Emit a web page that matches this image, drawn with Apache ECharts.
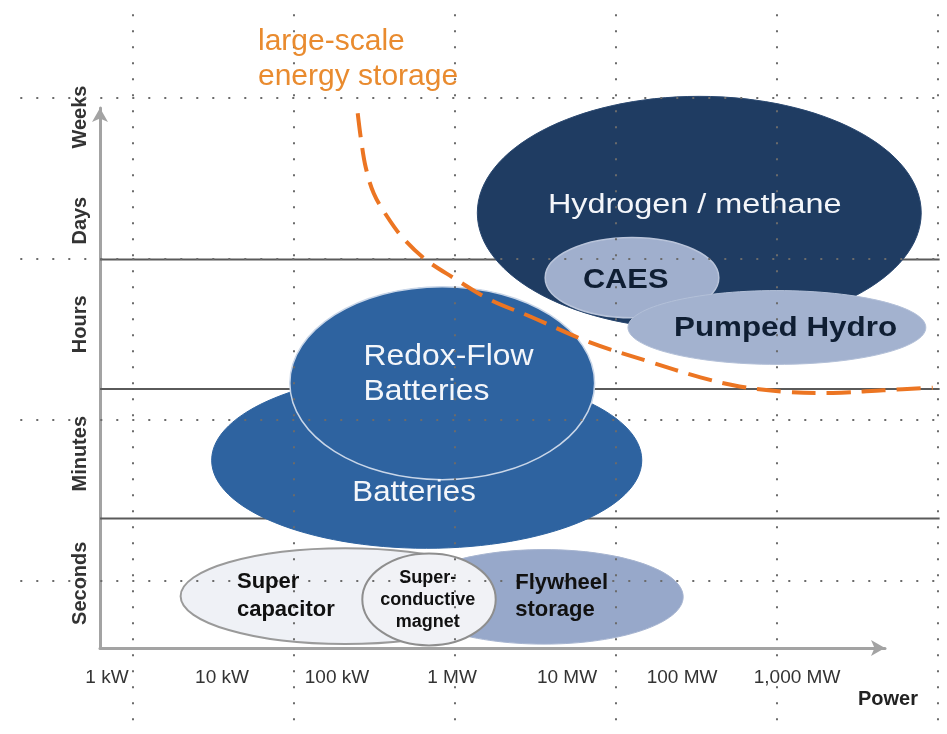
<!DOCTYPE html>
<html>
<head>
<meta charset="utf-8">
<title>Energy storage technologies</title>
<script src="https://cdn.jsdelivr.net/npm/echarts@6/dist/echarts.min.js"></script>
<style>
    html, body { margin: 0; padding: 0; background: #fff; }
    #chart { width: 947px; height: 734px; }
</style>
</head>
<body>
<div id="chart"></div>
<script>
// power axis: log10 of kW (0 = 1 kW ... 6 = 1,000 MW)
var powerTicks = [0, 1, 2, 3, 4, 5, 6];
var powerLabels = ['1 kW', '10 kW', '100 kW', '1 MW', '10 MW', '100 MW', '1,000 MW'];

// duration axis: one unit per band
var durationPos = [0.5, 1.5, 2.5, 3.3, 4.1];
var durationLabels = ['Seconds', 'Minutes', 'Hours', 'Days', 'Weeks'];
var bandEdges = [1, 2, 3];

// technologies: power range (log kW) and discharge time range (bands)
var techNames = ['Hydrogen / methane', 'CAES', 'Pumped Hydro', 'Batteries', 'Redox-Flow\nBatteries',
    'Super\ncapacitor', 'Flywheel\nstorage', 'Super-\nconductive\nmagnet'];
var powerMin = [3.22, 3.81, 4.53, 0.91, 1.59, 0.64, 2.59, 2.22];
var powerMax = [7.08, 5.32, 7.12, 4.65, 4.24, 3.50, 5.01, 3.38];
var durMin = [2.46, 2.55, 2.19, 0.77, 1.30, 0.03, 0.03, 0.02];
var durMax = [4.26, 3.17, 2.76, 2.13, 2.79, 0.77, 0.76, 0.73];
// where each name sits
var labelPower = [5.11, 4.51, 5.90, 2.67, 2.23, 1.13, 3.55, 2.79];
var labelDur = [3.42, 2.84, 2.47, 1.20, 2.11, 0.40, 0.40, 0.37];

// large-scale energy storage boundary
var curvePower = [2.18, 2.21, 2.25, 2.32, 2.43, 2.57, 2.77, 3.01, 3.33, 3.68, 4.20, 4.72, 5.16, 5.50, 5.88, 6.31, 6.75, 7.18];
var curveDur = [4.13, 3.92, 3.71, 3.51, 3.34, 3.17, 3.00, 2.86, 2.69, 2.56, 2.36, 2.21, 2.09, 2.02, 1.98, 1.97, 1.99, 2.01];

// background dotted guide grid (slide cells)
var guideCols = [0, 1, 2, 3, 4, 5];
var guideRows = [0, 1, 2, 3];

var FONT = '"Liberation Sans", Arial, sans-serif';

var techStyle = [
    {fill: '#1f3c62', stroke: '#2a4870', lineWidth: 1},
    {fill: '#a0afcd', stroke: '#b9c4da', lineWidth: 1.5},
    {fill: '#a3b2cf', stroke: '#b3c0d8', lineWidth: 1},
    {fill: '#2e63a0', stroke: '#2e63a0', lineWidth: 1},
    {fill: '#2e63a0', stroke: '#c9d6e8', lineWidth: 1.5},
    {fill: '#eff1f6', stroke: '#9a9a9a', lineWidth: 2},
    {fill: '#97a8ca', stroke: '#a6b4d0', lineWidth: 1},
    {fill: '#f1f2f6', stroke: '#8e8e8e', lineWidth: 2}
];

var labelStyle = [
    {color: '#f4f6fa', font: 'normal 27px ' + FONT, align: 'center', lineHeight: 30, scaleX: 1.2},
    {color: '#0f1e33', font: 'bold 28px ' + FONT, align: 'center', lineHeight: 30, scaleX: 1.1},
    {color: '#0f1e33', font: 'bold 28px ' + FONT, align: 'center', lineHeight: 30, scaleX: 1.12},
    {color: '#f4f6fa', font: 'normal 29px ' + FONT, align: 'center', lineHeight: 30, scaleX: 1.08},
    {color: '#f4f6fa', font: 'normal 29px ' + FONT, align: 'left', lineHeight: 35, scaleX: 1.1},
    {color: '#111111', font: 'bold 22px ' + FONT, align: 'left', lineHeight: 28, scaleX: 1},
    {color: '#111111', font: 'bold 22px ' + FONT, align: 'left', lineHeight: 27, scaleX: 1},
    {color: '#111111', font: 'bold 18px ' + FONT, align: 'center', lineHeight: 22, scaleX: 1}
];

function renderTech(params, api) {
    var st = techStyle[params.dataIndex];
    var p0 = api.coord([api.value(0), api.value(2)]);
    var p1 = api.coord([api.value(1), api.value(3)]);
    return {
        type: 'ellipse',
        shape: {
            cx: (p0[0] + p1[0]) / 2,
            cy: (p0[1] + p1[1]) / 2,
            rx: Math.abs(p1[0] - p0[0]) / 2,
            ry: Math.abs(p1[1] - p0[1]) / 2
        },
        style: {fill: st.fill, stroke: st.stroke, lineWidth: st.lineWidth}
    };
}

function renderLabel(params, api) {
    var i = params.dataIndex;
    var st = labelStyle[i];
    var p = api.coord([api.value(0), api.value(1)]);
    return {
        type: 'text',
        x: p[0],
        y: p[1],
        scaleX: st.scaleX,
        style: {
            text: techNames[i],
            fill: st.color,
            font: st.font,
            align: st.align,
            textAlign: st.align,
            verticalAlign: 'middle',
            textVerticalAlign: 'middle',
            lineHeight: st.lineHeight
        }
    };
}

function renderCurve(params, api) {
    if (params.dataIndex !== 0) {
        return null;
    }
    var pts = curveData.map(function (d) {
        return api.coord(d);
    });
    return {
        type: 'polyline',
        shape: {points: pts, smooth: 0.35},
        style: {stroke: '#ec7522', lineWidth: 4, lineDash: [24, 11], fill: null}
    };
}

function renderBandEdge(params, api) {
    var y = api.value(0);
    var a = api.coord([-0.06, y]);
    var b = api.coord([7.24, y]);
    return {
        type: 'line',
        shape: {x1: a[0], y1: a[1], x2: b[0], y2: b[1]},
        style: {stroke: '#5a5a5a', lineWidth: 2}
    };
}

function renderGuideCol(params, api) {
    var u = api.value(0);
    var a = api.coord([u, -0.52]);
    var b = api.coord([u, 3.95]);
    return {
        type: 'line',
        shape: {x1: a[0], y1: a[1], x2: b[0], y2: b[1]},
        style: {stroke: '#6b6b6b', lineWidth: 2, lineDash: [2, 14]}
    };
}

function renderGuideRow(params, api) {
    var w = api.value(0);
    var a = api.coord([-0.70, w]);
    var b = api.coord([5.06, w]);
    return {
        type: 'line',
        shape: {x1: a[0], y1: a[1], x2: b[0], y2: b[1]},
        style: {stroke: '#6b6b6b', lineWidth: 2, lineDash: [2, 14]}
    };
}

var techData = techNames.map(function (n, i) {
    return [powerMin[i], powerMax[i], durMin[i], durMax[i]];
});
var labelData = techNames.map(function (n, i) {
    return [labelPower[i], labelDur[i]];
});
var curveData = curvePower.map(function (p, i) {
    return [p, curveDur[i]];
});

var chart = echarts.init(document.getElementById('chart'));

var option = {
    animation: false,
    backgroundColor: '#ffffff',
    title: [{
        text: 'large-scale\nenergy storage',
        left: 258,
        top: 24,
        padding: 0,
        textStyle: {color: '#e98b2f', fontSize: 30, fontWeight: 'normal', fontFamily: FONT, lineHeight: 35}
    }, {
        text: 'Power',
        left: 858,
        top: 689,
        padding: 0,
        textStyle: {color: '#222222', fontSize: 20, fontWeight: 'bold', fontFamily: FONT}
    }],
    grid: [
        {left: 100, right: 62, top: 108, bottom: 86},
        {left: 0, right: 0, top: 0, bottom: 0}
    ],
    xAxis: [{
        type: 'value',
        gridIndex: 0,
        min: -0.0609,
        max: 6.765,
        splitLine: {show: false},
        axisTick: {show: false},
        axisLine: {
            show: true,
            onZero: false,
            symbol: ['none', 'arrow'],
            symbolSize: [12, 14],
            lineStyle: {color: '#a3a3a3', width: 3}
        },
        axisLabel: {
            customValues: powerTicks,
            margin: 20,
            color: '#333333',
            fontSize: 19,
            fontFamily: FONT,
            formatter: function (v) {
                return powerLabels[powerTicks.indexOf(Math.round(v))];
            }
        }
    }, {
        type: 'value',
        gridIndex: 1,
        min: -0.826,
        max: 5.056,
        show: false
    }],
    yAxis: [{
        type: 'value',
        gridIndex: 0,
        min: 0,
        max: 4.17,
        splitLine: {show: false},
        axisTick: {show: false},
        axisLine: {
            show: true,
            onZero: false,
            symbol: ['none', 'arrow'],
            symbolSize: [12, 14],
            lineStyle: {color: '#a3a3a3', width: 3}
        },
        axisLabel: {
            customValues: durationPos,
            rotate: 90,
            margin: 10,
            color: '#333333',
            fontSize: 20,
            fontWeight: 'bold',
            fontFamily: FONT,
            formatter: function (v) {
                return durationLabels[durationPos.indexOf(v)];
            }
        }
    }, {
        type: 'value',
        gridIndex: 1,
        inverse: true,
        min: -0.609,
        max: 3.950,
        show: false
    }],
    series: [{
        type: 'custom',
        name: 'bands',
        xAxisIndex: 0,
        yAxisIndex: 0,
        data: bandEdges.map(function (b) { return [b]; }),
        encode: {y: 0},
        renderItem: renderBandEdge,
        silent: true,
        z: 1
    }, {
        type: 'custom',
        name: 'technologies',
        xAxisIndex: 0,
        yAxisIndex: 0,
        data: techData,
        encode: {x: [0, 1], y: [2, 3]},
        renderItem: renderTech,
        z: 2
    }, {
        type: 'custom',
        name: 'guideCols',
        xAxisIndex: 1,
        yAxisIndex: 1,
        data: guideCols.map(function (c) { return [c]; }),
        encode: {x: 0},
        renderItem: renderGuideCol,
        silent: true,
        z: 3
    }, {
        type: 'custom',
        name: 'guideRows',
        xAxisIndex: 1,
        yAxisIndex: 1,
        data: guideRows.map(function (r) { return [r]; }),
        encode: {y: 0},
        renderItem: renderGuideRow,
        silent: true,
        z: 3
    }, {
        type: 'custom',
        name: 'names',
        xAxisIndex: 0,
        yAxisIndex: 0,
        data: labelData,
        encode: {x: 0, y: 1},
        renderItem: renderLabel,
        z: 4
    }, {
        type: 'custom',
        name: 'large-scale energy storage',
        xAxisIndex: 0,
        yAxisIndex: 0,
        data: curveData,
        encode: {x: 0, y: 1},
        renderItem: renderCurve,
        silent: true,
        z: 6
    }]
};

chart.setOption(option);
</script>
</body>
</html>
